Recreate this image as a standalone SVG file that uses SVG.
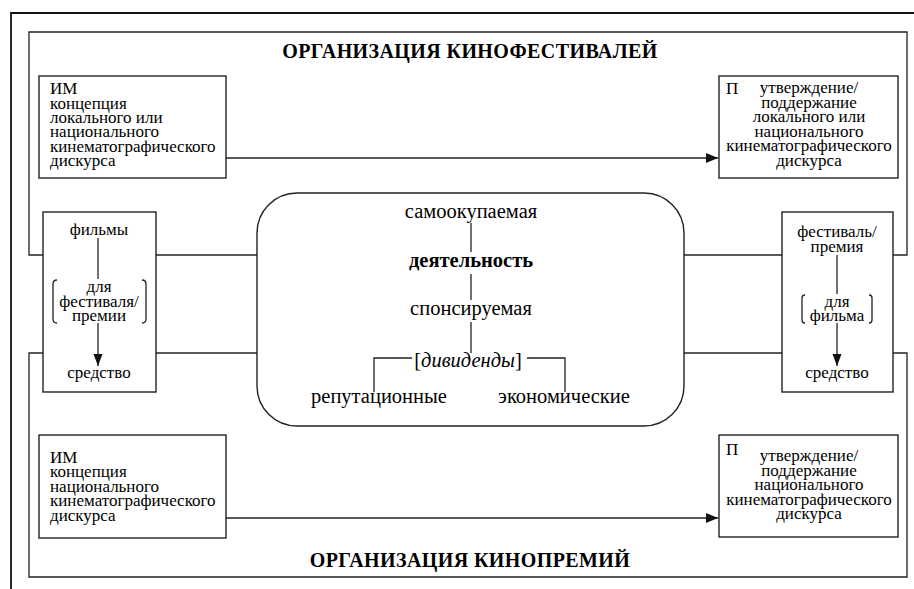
<svg xmlns="http://www.w3.org/2000/svg" width="914" height="589" viewBox="0 0 914 589" font-family="'Liberation Serif', Tinos, 'DejaVu Serif', serif">
  <style>
    text { font-family: "Liberation Serif", Tinos, "DejaVu Serif", serif; fill: #000; }
    .box { fill: #fff; stroke: #222; stroke-width: 1.4; }
    .ln { fill: none; stroke: #222; stroke-width: 1.3; }
    .frame { fill: none; stroke: #111; stroke-width: 1.8; }
    .title { font-size: 20px; font-weight: bold; text-anchor: middle; letter-spacing: 0.4px; }
    .bt { font-size: 17px; }
    .bc { font-size: 17px; text-anchor: middle; }
    .ct { font-size: 20.5px; text-anchor: middle; }
  </style>
  <defs>
    <marker id="arr" markerWidth="12" markerHeight="10" refX="12" refY="5" orient="auto" markerUnits="userSpaceOnUse">
      <path d="M0,0 L12,5 L0,10 Z" fill="#111"/>
    </marker>
    <marker id="arrv" markerWidth="12" markerHeight="10" refX="12" refY="5" orient="auto" markerUnits="userSpaceOnUse">
      <path d="M0,0.5 L12,5 L0,9.5 Z" fill="#111"/>
    </marker>
  </defs>

  <rect width="914" height="589" fill="#fff"/>

  <!-- outer frame, running off the right and bottom edges -->
  <path class="frame" d="M11,589 V13 H914"/>

  <!-- festival section frame -->
  <g id="festival-section">
    <path class="ln" d="M44,255 H29 V32 H907 V255 H893"/>
    <text class="title" x="470" y="58">ОРГАНИЗАЦИЯ КИНОФЕСТИВАЛЕЙ</text>
  </g>

  <!-- award section frame -->
  <g id="award-section">
    <path class="ln" d="M44,353 H29 V577 H907 V353 H893"/>
    <text class="title" x="470" y="567">ОРГАНИЗАЦИЯ КИНОПРЕМИЙ</text>
  </g>

  <!-- connectors -->
  <g id="connectors">
    <line class="ln" x1="226" y1="158" x2="718" y2="158" marker-end="url(#arr)"/>
    <line class="ln" x1="226" y1="518" x2="718" y2="518" marker-end="url(#arr)"/>
    <line class="ln" x1="156" y1="255" x2="257" y2="255"/>
    <line class="ln" x1="156" y1="353" x2="257" y2="353"/>
    <line class="ln" x1="684" y1="255" x2="782" y2="255"/>
    <line class="ln" x1="684" y1="353" x2="782" y2="353"/>
  </g>

  <!-- festival: intention -->
  <g id="fest-im">
    <rect class="box" x="39" y="76" width="187" height="102"/>
    <text class="bt" x="50" y="94">ИМ</text>
    <text class="bt" x="50" y="109">концепция</text>
    <text class="bt" x="50" y="123">локального или</text>
    <text class="bt" x="50" y="137">национального</text>
    <text class="bt" x="50" y="152">кинематографического</text>
    <text class="bt" x="50" y="166">дискурса</text>
  </g>

  <!-- festival: result -->
  <g id="fest-p">
    <rect class="box" x="719" y="76" width="179" height="102"/>
    <text class="bt" x="726" y="94">П</text>
    <text class="bc" x="809" y="93">утверждение/</text>
    <text class="bc" x="809" y="108">поддержание</text>
    <text class="bc" x="809" y="122">локального или</text>
    <text class="bc" x="809" y="137">национального</text>
    <text class="bc" x="809" y="151">кинематографического</text>
    <text class="bc" x="809" y="166">дискурса</text>
  </g>

  <!-- films box -->
  <g id="films">
    <rect class="box" x="43" y="212" width="113" height="180"/>
    <text class="bc" x="99" y="235">фильмы</text>
    <line class="ln" x1="98" y1="238" x2="98" y2="279"/>
    <path class="ln" d="M57,280 Q53,280 53,284 V319 Q53,323 57,323"/>
    <path class="ln" d="M142,280 Q146,280 146,284 V319 Q146,323 142,323"/>
    <text class="bc" x="99" y="292">для</text>
    <text class="bc" x="99" y="307">фестиваля/</text>
    <text class="bc" x="99" y="321">премии</text>
    <line class="ln" x1="98" y1="323" x2="98" y2="366" marker-end="url(#arrv)"/>
    <text class="bc" x="99" y="378">средство</text>
  </g>

  <!-- festival / award box -->
  <g id="festival-award">
    <rect class="box" x="782" y="212" width="111" height="180"/>
    <text class="bc" x="837" y="237">фестиваль/</text>
    <text class="bc" x="837" y="252">премия</text>
    <line class="ln" x1="837" y1="255" x2="837" y2="294"/>
    <path class="ln" d="M805,295 Q802,295 802,298 V320 Q802,323 805,323"/>
    <path class="ln" d="M869,295 Q872,295 872,298 V320 Q872,323 869,323"/>
    <text class="bc" x="837" y="307">для</text>
    <text class="bc" x="837" y="321">фильма</text>
    <line class="ln" x1="837" y1="323" x2="837" y2="366" marker-end="url(#arrv)"/>
    <text class="bc" x="837" y="378">средство</text>
  </g>

  <!-- activity -->
  <g id="activity">
    <rect class="box" x="257" y="193" width="427" height="233" rx="40" ry="40"/>
    <text class="ct" x="471" y="218">самоокупаемая</text>
    <line class="ln" x1="471" y1="223" x2="471" y2="252"/>
    <text class="ct" x="471" y="267" font-weight="bold">деятельность</text>
    <line class="ln" x1="471" y1="274" x2="471" y2="300"/>
    <text class="ct" x="471" y="315">спонсируемая</text>
    <line class="ln" x1="471" y1="322" x2="471" y2="353"/>
    <text class="ct" x="468" y="367">[<tspan font-style="italic">дивиденды</tspan>]</text>
    <path class="ln" d="M412,358 H374 V392"/>
    <path class="ln" d="M527,358 H565 V392"/>
    <text class="ct" x="379" y="403">репутационные</text>
    <text class="ct" x="564" y="403">экономические</text>
  </g>

  <!-- award: intention -->
  <g id="award-im">
    <rect class="box" x="39" y="435" width="187" height="103"/>
    <text class="bt" x="50" y="463">ИМ</text>
    <text class="bt" x="50" y="477">концепция</text>
    <text class="bt" x="50" y="492">национального</text>
    <text class="bt" x="50" y="506">кинематографического</text>
    <text class="bt" x="50" y="521">дискурса</text>
  </g>

  <!-- award: result -->
  <g id="award-p">
    <rect class="box" x="719" y="435" width="179" height="102"/>
    <text class="bt" x="726" y="455">П</text>
    <text class="bc" x="809" y="461">утверждение/</text>
    <text class="bc" x="809" y="476">поддержание</text>
    <text class="bc" x="809" y="490">национального</text>
    <text class="bc" x="809" y="505">кинематографического</text>
    <text class="bc" x="809" y="519">дискурса</text>
  </g>
</svg>
